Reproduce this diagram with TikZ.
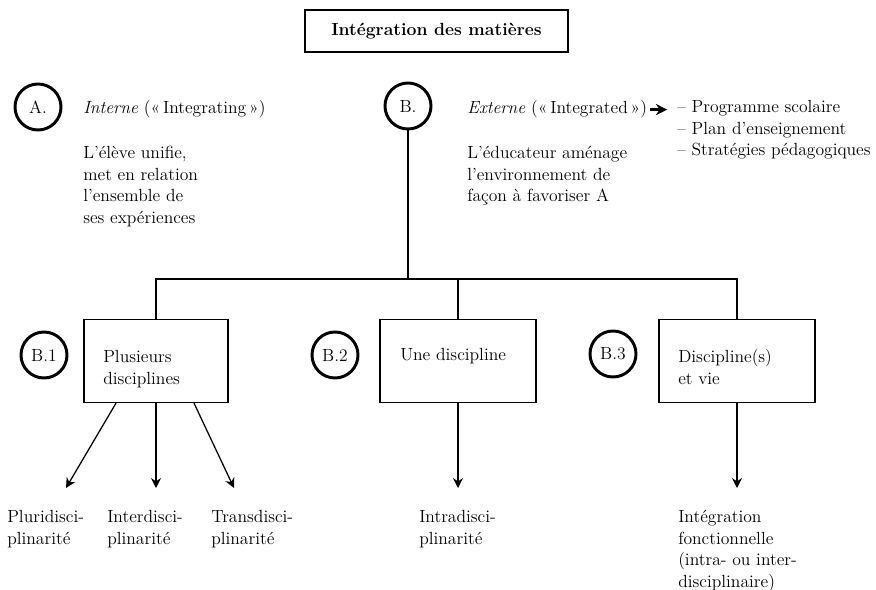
\documentclass[tikz,border=0pt]{standalone}
\usepackage{tikz}
\usetikzlibrary{positioning}
\usetikzlibrary{arrows.meta}

\tikzset{
  letter/.style={circle, draw, line width=2.1pt, minimum size=1.15cm, inner sep=0pt},
  block/.style={rectangle, draw, line width=0.9pt, minimum height=2.075cm},
  txt/.style={align=left, inner sep=0pt, anchor=north west},
  link/.style={line width=0.9pt},
  down/.style={line width=0.9pt, -{Stealth[length=7pt, width=7pt]}},
}

\begin{document}
\begin{tikzpicture}[x=0.025cm, y=-0.025cm, font=\fontsize{12.5}{15.4}\selectfont]
\useasboundingbox (0,0) rectangle (876,590);

\node[draw, line width=0.9pt, minimum width=6.575cm, minimum height=1.05cm] (title) at (436.5,31) {\bfseries Intégration des matières};

\node[letter] (A) at (38,107) {A.};
\node[letter] (B) at (408,106) {B.};

\node[inner sep=0pt, anchor=base west] (int) at (83,114) {\textit{Interne} («\,Integrating\,»)};
\node[txt] (intx) at (83,146) {L'élève unifie,\\met en relation\\l'ensemble de\\ses expériences};

\node[inner sep=0pt, anchor=base west] (ext) at (467,114) {\textit{Externe} («\,Integrated\,»)};
\node[txt] (extx) at (467,146) {L'éducateur aménage\\l'environnement de\\façon à favoriser A};
\node[txt] (list) at (677,100) {-- Programme scolaire\\-- Plan d'enseignement\\-- Stratégies pédagogiques};

\draw[line width=1.8pt, -{Stealth[length=8pt, width=8pt]}, shorten <=2pt, shorten >=7pt] (ext.east) -- (ext.east -| list.west);

\coordinate (bus) at (0,279);
\coordinate (tip) at (0,488);
\coordinate (pluri) at (66,488);
\coordinate (trans) at (234,488);

\node[block, minimum width=3.6cm] (b1) at (156,361) {};
\node[block, minimum width=3.9cm] (b2) at (458,361) {};
\node[block, minimum width=3.9cm] (b3) at (737,361) {};

\node[letter] (B1) at (44,355) {B.1};
\node[letter] (B2) at (335,355) {B.2};
\node[letter] (B3) at (613,354) {B.3};

\node[txt] (b1x) at (103,350) {Plusieurs\\disciplines};
\node[txt] (b2x) at (400,348) {Une discipline};
\node[txt] (b3x) at (678,349) {Discipline(s)\\et vie};

\draw[link] (B.south) -- (B.south |- bus);
\draw[link] (b1.north) -- (b1.north |- bus) -- (b3.north |- bus) -- (b3.north);
\draw[link] (b2.north) -- (b2.north |- bus);

\draw[down] ([xshift=-1cm]b1.south) -- (pluri);
\draw[down] (b1.south) -- (b1.south |- tip);
\draw[down] ([xshift=0.95cm]b1.south) -- (trans);
\draw[down] (b2.south) -- (b2.south |- tip);
\draw[down] (b3.south) -- (b3.south |- tip);

\node[txt] (plu) at (7,510) {Pluridisci-\\plinarité};
\node[txt] (inter) at (107,510) {Interdisci-\\plinarité};
\node[txt] (tra) at (211,510) {Transdisci-\\plinarité};
\node[txt] (intra) at (419,510) {Intradisci-\\plinarité};
\node[txt] (fonc) at (678,510) {Intégration\\fonctionnelle\\(intra- ou inter-\\disciplinaire)};

\end{tikzpicture}
\end{document}
